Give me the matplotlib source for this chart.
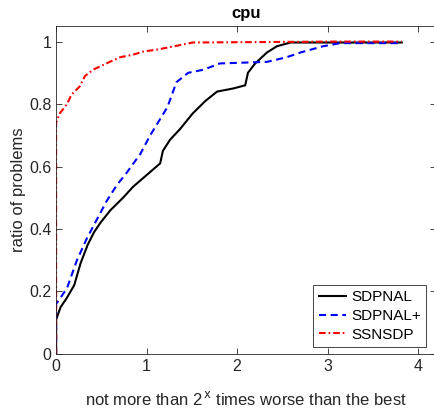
import matplotlib
matplotlib.use("Agg")
import matplotlib.pyplot as plt

plt.rcParams['font.family'] = ['Liberation Sans', 'DejaVu Sans']

# Performance profile curves
sdpnal_x = [0, 0, 0.05, 0.12, 0.2, 0.27, 0.35, 0.42, 0.49, 0.6, 0.74, 0.85, 0.95,
            1.07, 1.15, 1.18, 1.26, 1.37, 1.51, 1.65, 1.78, 1.96, 2.09, 2.12,
            2.2, 2.33, 2.44, 2.59, 3.82]
sdpnal_y = [0, 0.11, 0.15, 0.18, 0.22, 0.29, 0.35, 0.39, 0.42, 0.46, 0.50, 0.535, 0.56,
            0.59, 0.61, 0.65, 0.686, 0.72, 0.77, 0.81, 0.84, 0.85, 0.86, 0.90,
            0.93, 0.965, 0.985, 0.997, 0.997]

sdpnalp_x = [0, 0, 0.12, 0.23, 0.34, 0.45, 0.56, 0.67, 0.78, 0.93, 1.04, 1.23, 1.33,
             1.46, 1.63, 1.81, 2.33, 2.55, 2.70, 2.95, 3.14, 3.8, 3.82]
sdpnalp_y = [0, 0.16, 0.21, 0.30, 0.37, 0.43, 0.49, 0.54, 0.58, 0.64, 0.70, 0.79, 0.87,
             0.90, 0.91, 0.93, 0.935, 0.95, 0.965, 0.985, 0.995, 0.995, 1.0]

ssnsdp_x = [0, 0, 0.04, 0.12, 0.17, 0.26, 0.32, 0.41, 0.6, 0.71, 0.85, 0.96, 1.11,
            1.29, 1.51, 3.06, 3.82]
ssnsdp_y = [0, 0.74, 0.77, 0.80, 0.83, 0.856, 0.89, 0.91, 0.936, 0.95, 0.958, 0.968, 0.974,
            0.984, 0.997, 1.0, 1.0]

names = ['SDPNAL', 'SDPNAL+', 'SSNSDP']

fig = plt.figure(figsize=(4.35, 4.12), dpi=100)
# the right edge of the box sits just outside the picture, as in the reference
ax = fig.add_axes([0.129, 0.141, 0.8736, 0.796])

ax.plot(sdpnal_x, sdpnal_y, color='black', linestyle='-', linewidth=1.5, label=names[0])
ax.plot(sdpnalp_x, sdpnalp_y, color='blue', linewidth=1.5, dashes=(3.4, 2.2),
        label=names[1])
ax.plot(ssnsdp_x, ssnsdp_y, color='red', linewidth=1.5, dashes=(3.2, 1.4, 0.8, 1.4),
        label=names[2])

ax.set_xlim(0, 4.2)
ax.set_ylim(0, 1.05)
ax.set_xticks([0, 1, 2, 3, 4])
ax.set_yticks([0, 0.2, 0.4, 0.6, 0.8, 1])
ax.set_yticklabels(['0', '0.2', '0.4', '0.6', '0.8', '1'])
ax.tick_params(direction='in', top=True, right=True, labelsize=11.5, colors='#262626',
               length=4, width=0.6)
for s in ax.spines.values():
    s.set_color('#262626')
    s.set_linewidth(0.6)

ax.set_title('cpu', fontsize=12, fontweight='bold')
ax.set_xlabel('not more than 2$^{\\,\\mathrm{x}}$ times worse than the best', fontsize=12,
              color='#262626', labelpad=12)
ax.set_ylabel('ratio of problems', fontsize=12, color='#262626', labelpad=2)

leg = ax.legend(loc='lower right', bbox_to_anchor=(426 / 435, 65 / 412),
                bbox_transform=fig.transFigure, borderaxespad=0,
                fontsize=11, fancybox=False, edgecolor='#262626', framealpha=1,
                handlelength=1.8, handletextpad=0.3, labelspacing=0.3, borderpad=0.35)
leg.get_frame().set_linewidth(0.6)

fig.savefig('out.png', dpi=100)
